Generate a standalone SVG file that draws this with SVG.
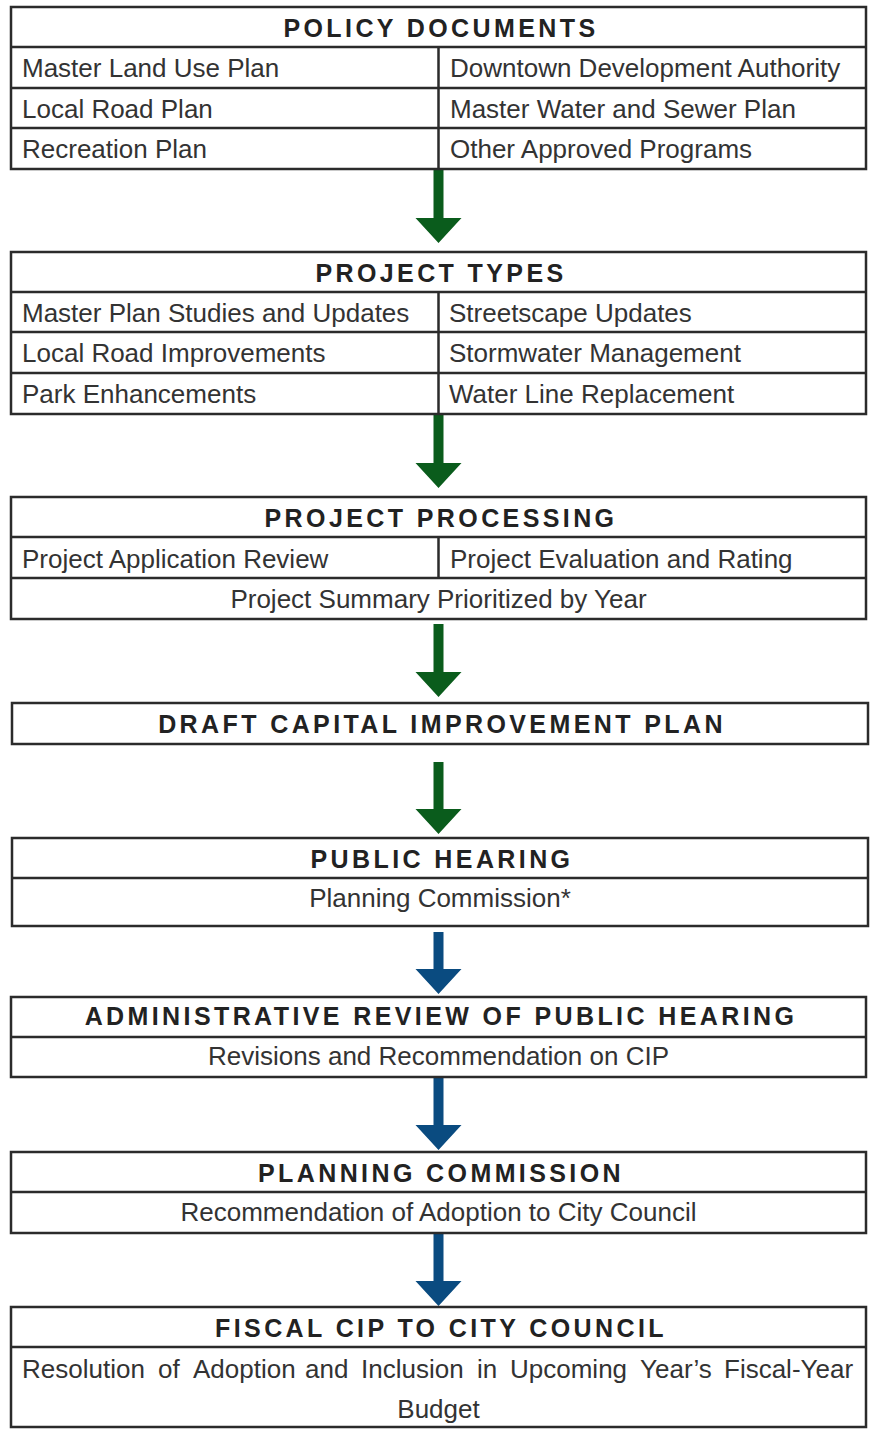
<svg xmlns="http://www.w3.org/2000/svg" width="871" height="1430" viewBox="0 0 871 1430">
<style>
.bx{fill:#fff;stroke:#2b2b2b;stroke-width:2.5}
.ln{stroke:#2b2b2b;stroke-width:2.5;fill:none}
.t{font-family:"Liberation Sans",Arial,sans-serif;font-size:25px;font-weight:bold;letter-spacing:3.4px;fill:#222;text-anchor:middle}
.b{font-family:"Liberation Sans",Arial,sans-serif;font-size:26px;fill:#333}
.c{text-anchor:middle}
.g{fill:#0a5c1c}
.bl{fill:#0a4b80}
</style>
<rect width="871" height="1430" fill="#fff"/>
<g id="connectors">
<polygon class="g" points="433.5,169 443.5,169 443.5,218 461.5,218 438.5,243 415.5,218 433.5,218"/>
<polygon class="g" points="433.5,414 443.5,414 443.5,463 461.5,463 438.5,488 415.5,463 433.5,463"/>
<polygon class="g" points="433.5,624 443.5,624 443.5,672 461.5,672 438.5,697 415.5,672 433.5,672"/>
<polygon class="g" points="433.5,762 443.5,762 443.5,809 461.5,809 438.5,834 415.5,809 433.5,809"/>
<polygon class="bl" points="433.5,932 443.5,932 443.5,969 461.5,969 438.5,994 415.5,969 433.5,969"/>
<polygon class="bl" points="433.5,1077 443.5,1077 443.5,1125 461.5,1125 438.5,1150 415.5,1125 433.5,1125"/>
<polygon class="bl" points="433.5,1233 443.5,1233 443.5,1281 461.5,1281 438.5,1306 415.5,1281 433.5,1281"/>
</g>
<g id="policy-documents">
<rect class="bx" x="11" y="7" width="855" height="162"/>
<path class="ln" d="M11 47H866M11 88H866M11 128H866M438.5 47V169"/>
<text class="t" x="441" y="37">POLICY DOCUMENTS</text>
<text class="b" x="22" y="77">Master Land Use Plan</text>
<text class="b" x="450" y="77">Downtown Development Authority</text>
<text class="b" x="22" y="118">Local Road Plan</text>
<text class="b" x="450" y="118">Master Water and Sewer Plan</text>
<text class="b" x="22" y="158">Recreation Plan</text>
<text class="b" x="450" y="158">Other Approved Programs</text>
</g>
<g id="project-types">
<rect class="bx" x="11" y="252" width="855" height="162"/>
<path class="ln" d="M11 292H866M11 332H866M11 373H866M438.5 292V414"/>
<text class="t" x="441" y="282">PROJECT TYPES</text>
<text class="b" x="22" y="322">Master Plan Studies and Updates</text>
<text class="b" x="449" y="322">Streetscape Updates</text>
<text class="b" x="22" y="362">Local Road Improvements</text>
<text class="b" x="449" y="362">Stormwater Management</text>
<text class="b" x="22" y="403">Park Enhancements</text>
<text class="b" x="449" y="403">Water Line Replacement</text>
</g>
<g id="project-processing">
<rect class="bx" x="11" y="497" width="855" height="122"/>
<path class="ln" d="M11 537H866M11 578H866M438.5 537V578"/>
<text class="t" x="441" y="527">PROJECT PROCESSING</text>
<text class="b" x="22" y="568">Project Application Review</text>
<text class="b" x="450" y="568">Project Evaluation and Rating</text>
<text class="b c" x="438.5" y="608">Project Summary Prioritized by Year</text>
</g>
<g id="draft-cip">
<rect class="bx" x="12" y="703" width="856" height="41"/>
<text class="t" x="442" y="733">DRAFT CAPITAL IMPROVEMENT PLAN</text>
</g>
<g id="public-hearing">
<rect class="bx" x="12" y="838" width="856" height="88"/>
<path class="ln" d="M12 878H868"/>
<text class="t" x="442" y="868">PUBLIC HEARING</text>
<text class="b c" x="440" y="907">Planning Commission*</text>
</g>
<g id="administrative-review">
<rect class="bx" x="11" y="997" width="855" height="80"/>
<path class="ln" d="M11 1037H866"/>
<text class="t" x="441" y="1025">ADMINISTRATIVE REVIEW OF PUBLIC HEARING</text>
<text class="b c" x="438.5" y="1065">Revisions and Recommendation on CIP</text>
</g>
<g id="planning-commission">
<rect class="bx" x="11" y="1152" width="855" height="81"/>
<path class="ln" d="M11 1192H866"/>
<text class="t" x="441" y="1182">PLANNING COMMISSION</text>
<text class="b c" x="438.5" y="1221">Recommendation of Adoption to City Council</text>
</g>
<g id="fiscal-cip">
<rect class="bx" x="11" y="1307" width="855" height="120"/>
<path class="ln" d="M11 1347H866"/>
<text class="t" x="441" y="1337">FISCAL CIP TO CITY COUNCIL</text>
<text class="b" y="1378"><tspan x="22">Resolution</tspan><tspan x="158">of</tspan><tspan x="193">Adoption</tspan><tspan x="305">and</tspan><tspan x="361">Inclusion</tspan><tspan x="477">in</tspan><tspan x="510">Upcoming</tspan><tspan x="640">Year&#8217;s</tspan><tspan x="724">Fiscal-Year</tspan></text>
<text class="b c" x="438.5" y="1418">Budget</text>
</g>
</svg>
